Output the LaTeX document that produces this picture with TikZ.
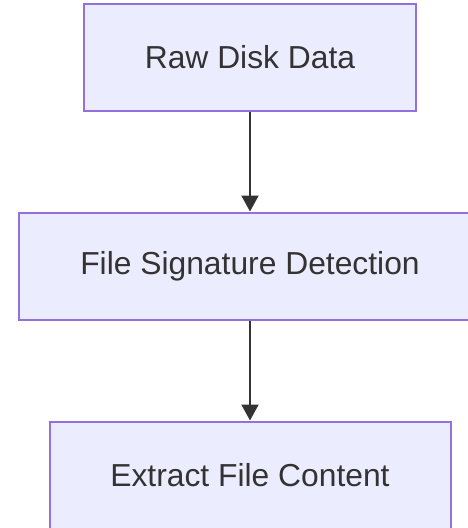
\documentclass[tikz,border=0pt]{standalone}
\usepackage{fontspec}
\setmainfont{Liberation Sans}
\usetikzlibrary{arrows.meta}
\definecolor{boxfill}{HTML}{ECECFF}
\definecolor{boxline}{HTML}{9370DB}
\definecolor{ink}{HTML}{333333}
\begin{document}
\begin{tikzpicture}[x=1pt,y=1pt,
  stepbox/.style={draw=boxline, fill=boxfill, line width=2pt, rectangle,
    minimum height=107pt, inner sep=0pt, text=ink,
    font=\fontsize{31.8}{38}\selectfont},
  flow/.style={draw=ink, line width=2pt, -{Triangle[length=16pt,width=17pt]}}]
  \useasboundingbox (0,0) rectangle (468,-528);
  \node[stepbox, minimum width=332pt] (raw) at (250,-57.5) {Raw Disk Data};
  \node[stepbox, minimum width=462pt] (sig) at (250,-266) {File Signature Detection};
  \node[stepbox, minimum width=401pt] (ext) at (250,-475) {Extract File Content};
  \draw[flow] (raw) -- (sig);
  \draw[flow] (sig) -- (ext);
\end{tikzpicture}
\end{document}
